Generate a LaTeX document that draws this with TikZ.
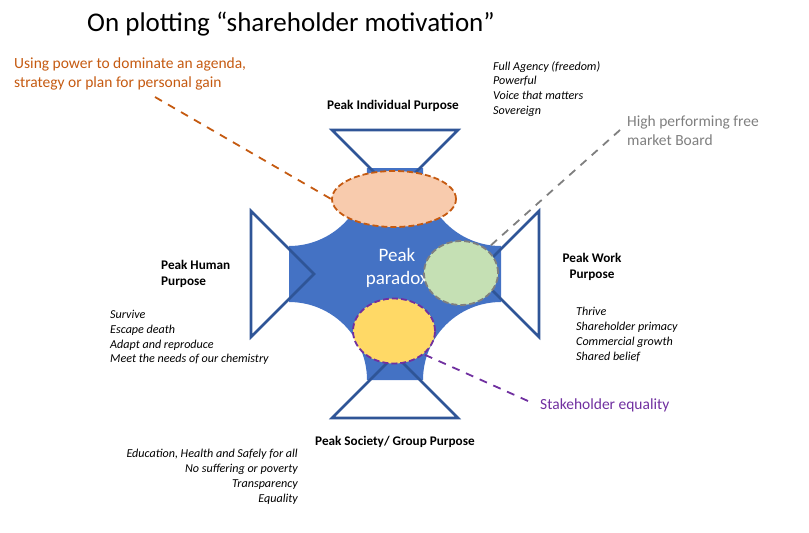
\documentclass[tikz,border=0pt]{standalone}
\usepackage{fontspec}
\setmainfont{Carlito}
\usetikzlibrary{
    shapes.geometric,
    positioning,
    calc}
\definecolor{paradoxblue}{HTML}{4472C4}
\definecolor{edgeblue}{HTML}{2F5597}
\definecolor{peachfill}{HTML}{F8CBAD}
\definecolor{powerorange}{HTML}{C55A11}
\definecolor{greenfill}{HTML}{C5E0B4}
\definecolor{boardgrey}{HTML}{7F7F7F}
\definecolor{yellowfill}{HTML}{FFD966}
\definecolor{equalpurple}{HTML}{7030A0}
\newcommand*{\cx}{395}
\newcommand*{\cy}{274}
\newcommand*{\half}{106}
\newcommand*{\cut}{78}
\newcommand*{\tribase}{144}
\newcommand*{\tri}{63}
\newcommand*{\tip}{81}

\begin{document}
\begin{tikzpicture}[x=1pt,y=-1pt,
    tri/.style={draw=edgeblue,line width=2.6pt,line join=miter},
    blob/.style={ellipse,inner sep=0pt,line width=1.8pt,dash pattern=on 6pt off 3pt},
    link/.style={line width=1.8pt,dash pattern=on 8pt off 7pt},
    head/.style={font=\fontsize{13.2}{16}\selectfont\bfseries,inner sep=0pt},
    note/.style={font=\fontsize{12.1}{14.8}\selectfont\itshape,inner sep=0pt},
    callout/.style={font=\fontsize{15.5}{18.5}\selectfont,inner sep=0pt,align=left}]
    \useasboundingbox (0,0) rectangle (809,533);
    \coordinate (c) at (\cx,\cy);
    % centre shape
    \fill[paradoxblue] (\cx-\half+\cut,\cy-\half) -- (\cx+\half-\cut,\cy-\half)
      arc[start angle=180,end angle=90,radius=\cut] -- (\cx+\half,\cy+\half-\cut)
      arc[start angle=270,end angle=180,radius=\cut] -- (\cx-\half+\cut,\cy+\half)
      arc[start angle=0,end angle=-90,radius=\cut] -- (\cx-\half,\cy-\half+\cut)
      arc[start angle=90,end angle=0,radius=\cut] -- cycle;
    \foreach \a in {0,90,180,270} {
      \draw[tri,rotate around={\a:(c)}] (\cx-\tri,\cy-\tribase) -- (\cx+\tri,\cy-\tribase) -- (\cx,\cy-\tip) -- cycle;
    }
    \node[white,font=\fontsize{19}{23}\selectfont,align=center] (paradox) at (397,268) {Peak\\paradox};
    \node[blob,fill=peachfill,draw=powerorange,minimum width=124pt,minimum height=56pt] (peach) at (394,199) {};
    \node[blob,fill=greenfill,draw=boardgrey,minimum width=74pt,minimum height=64pt] (green) at (461,273) {};
    \node[blob,fill=yellowfill,draw=equalpurple,minimum width=82pt,minimum height=65pt] (yellow) at (394,331) {};

    % texts
    \node[anchor=north west,font=\fontsize{27}{32}\selectfont,inner sep=0pt] (title) at (87,12) {On plotting “shareholder motivation”};
    \node[callout,powerorange,anchor=north west] (power) at (14,58) {Using power to dominate an agenda,\\strategy or plan for personal gain};
    \node[note,anchor=north west,align=left] (individual) at (493,61) {Full Agency (freedom)\\Powerful\\Voice that matters\\Sovereign};
    \node[head] (individualhead) at (393,106) {Peak Individual Purpose};
    \node[callout,boardgrey,anchor=north west] (board) at (627,116) {High performing free\\market Board};
    \node[head,anchor=north west,align=left] (humanhead) at (161,260) {Peak Human\\Purpose};
    \node[note,anchor=north west,align=left] (human) at (110,310) {Survive\\Escape death\\Adapt and reproduce\\Meet the needs of our chemistry};
    \node[head,align=center] (workhead) at (592,267) {Peak Work\\Purpose};
    \node[note,anchor=north west,align=left] (work) at (576,307) {Thrive\\Shareholder primacy\\Commercial growth\\Shared belief};
    \node[callout,equalpurple,anchor=west] (equality) at (540,405) {Stakeholder equality};
    \node[head,anchor=west] (societyhead) at (315,442) {Peak Society/ Group Purpose};
    \node[note,anchor=north east,align=right] (society) at (298,449) {Education, Health and Safely for all\\No suffering or poverty\\Transparency\\Equality};

    % connectors
    \coordinate (powerend) at (155,97);
    \coordinate (boardend) at (620,130);
    \coordinate (equalityend) at (528,401);
    \draw[link,powerorange] (powerend) -- (peach.west);
    \draw[link,boardgrey] (boardend) -- (green.43);
    \draw[link,equalpurple] (equalityend) -- (yellow.-38);
\end{tikzpicture}
\end{document}
